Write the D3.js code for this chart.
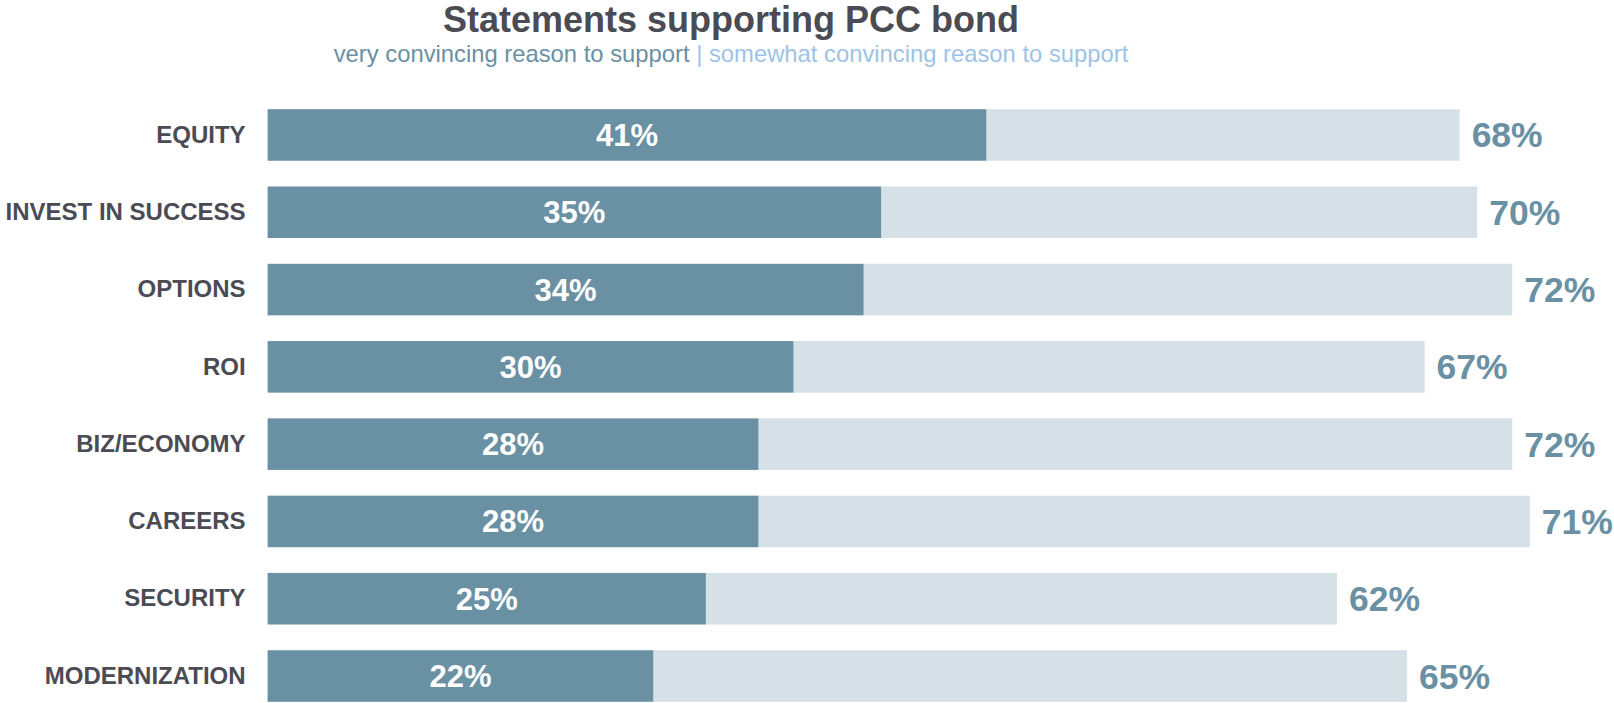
<!DOCTYPE html>
<html>
<head>
<meta charset="utf-8">
<script src="https://cdn.jsdelivr.net/npm/d3@7"></script>
<style>
  html, body { margin: 0; padding: 0; background: #fff; }
  svg { display: block; font-family: "Liberation Sans", Arial, Helvetica, sans-serif; }
</style>
</head>
<body>
<svg id="chart" width="1614" height="703"></svg>
<script>
// ---- data ----
const categories = ["EQUITY", "INVEST IN SUCCESS", "OPTIONS", "ROI", "BIZ/ECONOMY", "CAREERS", "SECURITY", "MODERNIZATION"];
const veryConvincing = [41, 35, 34, 30, 28, 28, 25, 22];
const somewhatConvincing = [27, 34, 37, 36, 43, 44, 36, 43];
const totalLabels = ["68%", "70%", "72%", "67%", "72%", "71%", "62%", "65%"];
const titleText = "Statements supporting PCC bond";
const subtitleParts = ["very convincing reason to support", "| somewhat convincing reason to support"];

// ---- style ----
const darkColor = "#6990a3";
const lightColor = "#d5e0e7";
const textDark = "#4b4b54";
const subLight = "#9dc3e6";

const svg = d3.select("#chart");

const x = d3.scaleLinear().domain([0, 100]).range([267.6, 2020.6]);
const y = d3.scaleBand().domain(categories).range([109.2, 701.8]).paddingInner(0.333).paddingOuter(0);

const rows = categories.map((c, i) => ({
  cat: c,
  very: veryConvincing[i],
  somewhat: somewhatConvincing[i],
  label: totalLabels[i]
}));

// light (total) bars
svg.append("g").selectAll("rect")
  .data(rows).join("rect")
  .attr("x", d => x(d.very))
  .attr("y", d => y(d.cat))
  .attr("width", d => x(d.very + d.somewhat) - x(d.very))
  .attr("height", y.bandwidth())
  .attr("fill", lightColor);

// dark bars
svg.append("g").selectAll("rect")
  .data(rows).join("rect")
  .attr("x", x(0))
  .attr("y", d => y(d.cat))
  .attr("width", d => x(d.very) - x(0))
  .attr("height", y.bandwidth())
  .attr("fill", darkColor);

// inner labels
svg.append("g").selectAll("text")
  .data(rows).join("text")
  .attr("x", d => (x(0) + x(d.very)) / 2)
  .attr("y", d => y(d.cat) + y.bandwidth() / 2 + 11)
  .attr("text-anchor", "middle")
  .attr("font-size", 31)
  .attr("font-weight", "bold")
  .attr("fill", "#ffffff")
  .text(d => d.very + "%");

// total labels
svg.append("g").selectAll("text")
  .data(rows).join("text")
  .attr("x", d => x(d.very + d.somewhat) + 12)
  .attr("y", d => y(d.cat) + y.bandwidth() / 2 + 12.5)
  .attr("text-anchor", "start")
  .attr("font-size", 35.5)
  .attr("font-weight", "bold")
  .attr("fill", darkColor)
  .text(d => d.label);

// category axis
const yAxis = svg.append("g")
  .attr("transform", `translate(${x(0) - 22},0)`)
  .call(d3.axisLeft(y).tickSize(0).tickPadding(0));
yAxis.select(".domain").remove();
yAxis.selectAll("text")
  .attr("font-size", 24)
  .attr("font-weight", "bold")
  .attr("fill", textDark)
  .attr("font-family", "'Liberation Sans', Arial, sans-serif");

// title
svg.append("text")
  .attr("x", 731).attr("y", 32)
  .attr("text-anchor", "middle")
  .attr("font-size", 36)
  .attr("font-weight", "bold")
  .attr("fill", textDark)
  .text(titleText);

// subtitle
const sub = svg.append("text")
  .attr("x", 731).attr("y", 62)
  .attr("text-anchor", "middle")
  .attr("font-size", 23.8);
sub.append("tspan").attr("fill", darkColor).text(subtitleParts[0] + " ");
sub.append("tspan").attr("fill", subLight).text(subtitleParts[1]);
</script>
</body>
</html>
